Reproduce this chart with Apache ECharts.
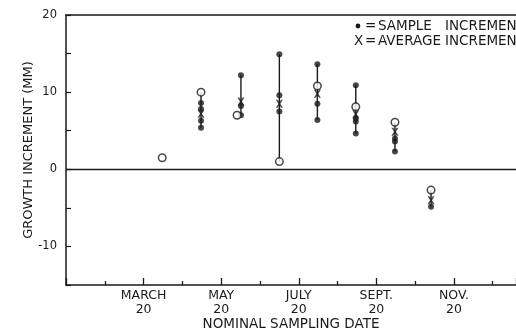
<!DOCTYPE html>
<html>
<head>
<meta charset="utf-8">
<script src="https://cdn.jsdelivr.net/npm/echarts@6/dist/echarts.min.js"></script>
<style>
html,body{margin:0;padding:0;background:#fff;}
#chart{width:516px;height:333px;}
</style>
</head>
<body>
<div id="chart"></div>
<script>
// x values in months: 1 = Jan 20, 3 = March 20, ... 11 = Nov 20
var tickMonths = [3, 5, 7, 9, 11];
var tickLabels = ['MARCH\n20', 'MAY\n20', 'JULY\n20', 'SEPT.\n20', 'NOV.\n20'];

// filled dots: sample increments [month, mm]
var sampleIncrements = [
  [4.48, 8.6], [4.48, 7.8], [4.48, 6.3], [4.48, 5.4],
  [5.51, 12.2], [5.51, 8.2], [5.51, 7.0],
  [6.50, 14.9], [6.50, 9.6], [6.50, 7.5],
  [7.48, 13.6], [7.48, 8.5], [7.48, 6.4],
  [8.47, 10.9], [8.47, 6.6], [8.47, 6.2], [8.47, 4.65],
  [9.48, 4.0], [9.48, 3.6], [9.48, 2.3],
  [10.41, -4.85]
];

// X marks: average increments
var averageIncrements = [
  [4.48, 7.2], [5.51, 8.8], [6.50, 8.5], [7.48, 9.8],
  [8.47, 7.15], [9.48, 4.85], [10.41, -4.0]
];

// open circles
var openCircles = [
  [3.48, 1.5], [4.48, 10.0], [5.41, 7.0], [6.50, 1.0],
  [7.48, 10.8], [8.47, 8.1], [9.48, 6.1], [10.41, -2.7]
];

var ink = '#1a1a1a';
var font = 'DejaVu Sans, sans-serif';

// vertical range lines for each sampling group
var groupXs = [];
sampleIncrements.forEach(function (p) { if (groupXs.indexOf(p[0]) < 0) groupXs.push(p[0]); });
var rangeSeries = groupXs.map(function (gx) {
  var vals = [];
  [sampleIncrements, averageIncrements, openCircles].forEach(function (arr) {
    arr.forEach(function (p) { if (Math.abs(p[0] - gx) < 0.05) vals.push(p[1]); });
  });
  var lo = Math.min.apply(null, vals), hi = Math.max.apply(null, vals);
  return {
    type: 'line', data: [[gx, lo], [gx, hi]], symbol: 'none', silent: true,
    lineStyle: { color: ink, width: 1.4 }, z: 2
  };
});

var xSymbol = 'path://M0,0 L2.6,0 L5,3.4 L7.4,0 L10,0 L6.4,5 L10,10 L7.4,10 L5,6.6 L2.6,10 L0,10 L3.6,5 Z';

var chart = echarts.init(document.getElementById('chart'), null, { renderer: 'canvas' });
chart.setOption({
  animation: false,
  backgroundColor: '#fff',
  grid: { left: 66, right: 0, top: 15, bottom: 48, containLabel: false, outerBoundsMode: 'none' },
  xAxis: [{
    type: 'value', min: 1, max: 12.6, interval: 2,
    name: 'NOMINAL SAMPLING DATE', nameLocation: 'middle', nameGap: 32, nameMoveOverlap: false,
    nameTextStyle: { color: ink, fontFamily: font, fontSize: 13.5 },
    axisLine: { show: true, onZero: false, lineStyle: { color: ink, width: 1.5 } },
    axisTick: { show: true, inside: true, length: 7, lineStyle: { color: ink, width: 1.3 } },
    minorTick: { show: true, splitNumber: 2, length: 4, lineStyle: { color: ink, width: 1.3 } },
    splitLine: { show: false },
    axisLabel: {
      color: ink, fontFamily: font, fontSize: 12.5, lineHeight: 13.5, margin: 4,
      showMaxLabel: false,
      formatter: function (v) {
        var i = tickMonths.indexOf(Math.round(v));
        return i >= 0 ? tickLabels[i] : '';
      }
    }
  }, {
    type: 'value', min: 1, max: 12.6, position: 'top',
    axisLine: { show: true, onZero: false, lineStyle: { color: ink, width: 1.5 } },
    axisTick: { show: false }, axisLabel: { show: false }, splitLine: { show: false }
  }],
  yAxis: {
    type: 'value', min: -15, max: 20, interval: 5,
    name: 'GROWTH INCREMENT (MM)', nameLocation: 'middle', nameGap: 31, nameRotate: 90,
    nameMoveOverlap: false,
    nameTextStyle: { color: ink, fontFamily: font, fontSize: 13 },
    axisLine: { show: true, onZero: false, lineStyle: { color: ink, width: 1.5 } },
    axisTick: { show: true, inside: true, length: 5, lineStyle: { color: ink, width: 1.2 } },
    splitLine: { show: false },
    axisLabel: {
      color: ink, fontFamily: font, fontSize: 11.5, margin: 9,
      formatter: function (v) { return (v % 10 === 0) ? String(v) : ''; }
    }
  },
  graphic: [
    { type: 'circle', shape: { cx: 358, cy: 26, r: 2.4 }, style: { fill: ink } },
    { type: 'text', left: 365, top: 19, style: { text: '=', fill: ink, font: '13.5px ' + font } },
    { type: 'text', left: 378, top: 19, style: { text: 'SAMPLE', fill: ink, font: '13.5px ' + font } },
    { type: 'text', left: 445, top: 19, style: { text: 'INCREMENT', fill: ink, font: '13.5px ' + font } },
    { type: 'text', left: 354, top: 34, style: { text: 'X', fill: ink, font: '13.5px ' + font } },
    { type: 'text', left: 365, top: 34, style: { text: '=', fill: ink, font: '13.5px ' + font } },
    { type: 'text', left: 378, top: 34, style: { text: 'AVERAGE', fill: ink, font: '13.5px ' + font } },
    { type: 'text', left: 445, top: 34, style: { text: 'INCREMENT', fill: ink, font: '13.5px ' + font } }
  ],
  series: [{
    type: 'line', data: [], silent: true,
    markLine: {
      silent: true, symbol: 'none', label: { show: false },
      lineStyle: { color: ink, width: 1.3, type: 'solid' },
      data: [{ yAxis: 0 }]
    }
  }].concat(rangeSeries).concat([{
    type: 'scatter', data: sampleIncrements, symbol: 'circle', symbolSize: 6,
    itemStyle: { color: ink }, z: 4
  }, {
    type: 'scatter', data: averageIncrements, symbol: xSymbol, symbolSize: [7, 8],
    itemStyle: { color: ink }, z: 5
  }, {
    type: 'scatter', data: openCircles, symbol: 'circle', symbolSize: 7.5,
    itemStyle: { color: '#fff', borderColor: ink, borderWidth: 1.5 }, z: 6
  }])
});
</script>
</body>
</html>
